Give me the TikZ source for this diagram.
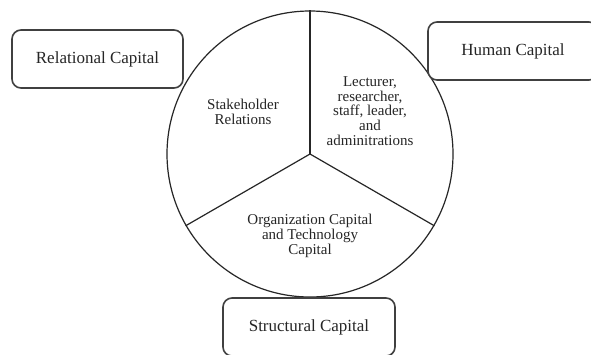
\documentclass[tikz,border=0pt]{standalone}
\usepackage{fontspec}
\setmainfont{Liberation Serif}
\begin{document}
\begin{tikzpicture}[x=1pt,y=-1pt,
  capbox/.style={draw=black!75,line width=1.6pt,rounded corners=9pt,fill=white,
    minimum width=#1,minimum height=58pt,inner sep=0pt,font=\fontsize{17}{20}\selectfont,text=black!85},
  inner/.style={align=center,inner sep=0pt,font=\fontsize{15}{14.8}\selectfont,text=black!85},
  spoke/.style={draw=black!85,line width=1.2pt}]
\clip (0,0) rectangle (591,354);
\fill[white] (0,0) rectangle (591,354);
\node[circle,draw=black!85,line width=1.2pt,minimum size=286pt,inner sep=0pt] (c) at (310,154) {};
\coordinate (o) at (310,154);
\draw[spoke] (o) -- (c.90);
\draw[spoke] (o) -- (c.210);
\draw[spoke] (o) -- (c.330);
\node[inner] (sr) at (243,112) {Stakeholder\\Relations};
\node[inner] (lr) at (370,111) {Lecturer,\\researcher,\\staff, leader,\\and\\adminitrations};
\node[inner] (oc) at (310,236) {Organization Capital\\and Technology\\Capital};
\node[capbox=171pt] (rc) at (97.5,59) {Relational Capital};
\node[capbox=170pt] (hc) at (513,51) {Human Capital};
\node[capbox=172pt] (sc) at (309,327) {Structural Capital};
\end{tikzpicture}
\end{document}
